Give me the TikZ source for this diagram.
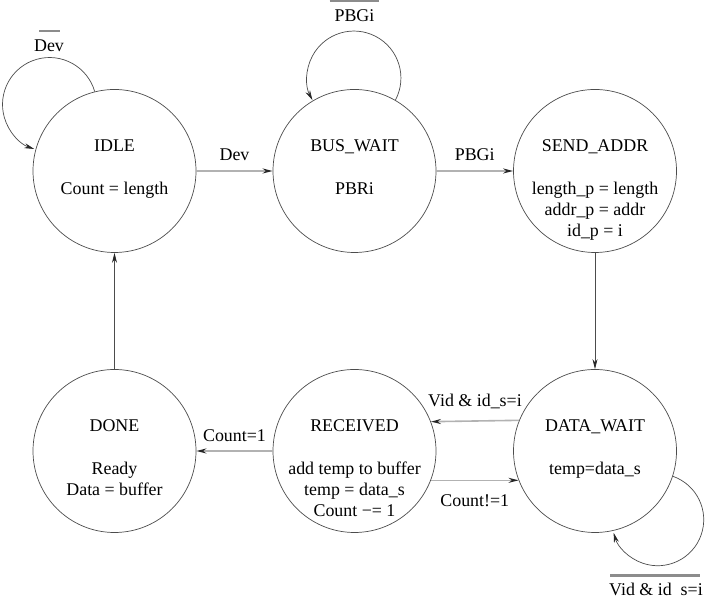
\documentclass[tikz,border=0pt]{standalone}
\usepackage{fontspec}
\setmainfont{Liberation Serif}
\usepackage{tikz}
\usetikzlibrary{arrows.meta}

\begin{document}
\begin{tikzpicture}[x=1pt,y=1pt,font=\fontsize{17.9}{21}\selectfont,
    state/.style={draw=black!70,line width=0.7pt,circle,minimum size=163pt,inner sep=0pt},
    title/.style={anchor=base,inner sep=0pt},
    body/.style={anchor=base,inner sep=0pt,align=center},
    cond/.style={anchor=base,inner sep=0pt},
    tip/.style={-{Stealth[length=10pt,width=5pt,color=black!85]}},
    hop/.style={tip,draw=black!30,line width=1.6pt},
    drop/.style={tip,draw=black!70,line width=0.7pt},
    selfloop/.style={tip,draw=black!70,line width=0.7pt},
    overbar/.style={draw=black!45,line width=2.3pt}]
    \useasboundingbox (0,0) rectangle (707,596);

    % Top row: IDLE -> BUS_WAIT -> SEND_ADDR
    % (body nodes sit on the baseline of their last line)
    \node[state] (idle) at (114.5,425) {};
    \node[title] (idle-t) at ([yshift=19pt]idle.center) {IDLE};
    \node[body] (idle-b) at ([yshift=-24pt]idle.center) {Count = length};

    \node[state] (bus) at (354.5,425) {};
    \node[title] (bus-t) at ([yshift=19pt]bus.center) {BUS\_WAIT};
    \node[body] (bus-b) at ([yshift=-24pt]bus.center) {PBRi};

    \node[state] (send) at (595,425) {};
    \node[title] (send-t) at ([yshift=19pt]send.center) {SEND\_ADDR};
    \node[body] (send-b) at ([yshift=-66pt]send.center) {length\_p = length\\addr\_p = addr\\id\_p = i};

    % Bottom row: DONE <- RECEIVED <-> DATA_WAIT
    \node[state] (done) at (114.5,145) {};
    \node[title] (done-t) at ([yshift=19pt]done.center) {DONE};
    \node[body] (done-b) at ([yshift=-45pt]done.center) {Ready\\Data = buffer};

    \node[state] (recv) at (354.5,145) {};
    \node[title] (recv-t) at ([yshift=19pt]recv.center) {RECEIVED};
    \node[body] (recv-b) at ([yshift=-66pt]recv.center) {add temp to buffer\\temp = data\_s\\Count −= 1};

    \node[state] (data) at (595,145) {};
    \node[title] (data-t) at ([yshift=19pt]data.center) {DATA\_WAIT};
    \node[body] (data-b) at ([yshift=-24pt]data.center) {temp=data\_s};

    % Transitions
    \draw[hop] (idle) -- (bus) node[cond,midway,yshift=10pt] {Dev};
    \draw[hop] (bus) -- (send) node[cond,midway,yshift=10pt] {PBGi};
    \draw[drop] (send) -- (data);
    \draw[hop] (data.158.4) -- (recv.21.6) node[cond,midway,yshift=14pt] {Vid \& id\_s=i};
    \draw[hop] (recv.-21.6) -- (data.201.6) node[cond,midway,yshift=-26pt] {Count!=1};
    \draw[hop] (recv) -- (done) node[cond,midway,yshift=9pt] {Count=1};
    \draw[drop] (done) -- (idle);

    % Self loops with overlined conditions
    \draw[selfloop] (idle.104) arc[start angle=16,end angle=251,radius=47];
    \node[cond] (idle-c) at (49,544) {Dev};
    \draw[overbar] ([xshift=-10pt,yshift=21pt]idle-c.base) -- ([xshift=11pt,yshift=21pt]idle-c.base);

    \draw[selfloop] (bus.60) arc[start angle=-28,end angle=208,radius=47];
    \node[cond] (bus-c) at (354.5,574) {PBGi};
    \draw[overbar] ([xshift=-25pt,yshift=21pt]bus-c.base) -- ([xshift=24pt,yshift=21pt]bus-c.base);

    \draw[selfloop] (data.-18) arc[start angle=70.8,end angle=-163.5,radius=46];
    \node[cond] (data-c) at (656,0) {Vid \& id\_s=i};
    \draw[overbar] ([xshift=-46pt,yshift=20.5pt]data-c.base) -- ([xshift=44pt,yshift=20.5pt]data-c.base);
\end{tikzpicture}
\end{document}
